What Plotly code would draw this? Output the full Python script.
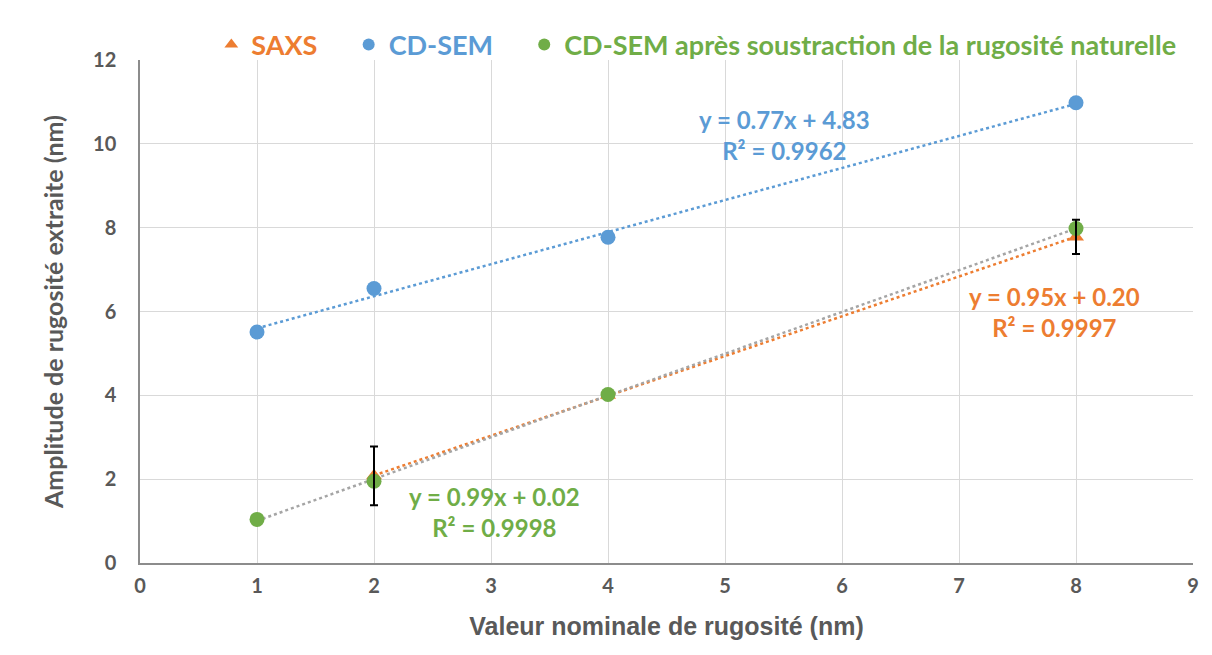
import numpy as np
import plotly.graph_objects as go

# ---- data ----
saxs_x = [2, 4, 8]
saxs_y = [2.08, 4.0, 7.78]
saxs_err = [0.7, 0.0, 0.41]

cdsem_x = [1, 2, 4, 8]
cdsem_y = [5.51, 6.55, 7.77, 10.98]

corr_x = [1, 2, 4, 8]
corr_y = [1.04, 1.95, 4.02, 7.98]

series_names = ["SAXS", "CD-SEM", "CD-SEM après soustraction de la rugosité naturelle"]
eq_texts = ["y = 0.77x + 4.83<br>R² = 0.9962",
            "y = 0.95x + 0.20<br>R² = 0.9997",
            "y = 0.99x + 0.02<br>R² = 0.9998"]

ORANGE = "#ED7D31"
BLUE = "#5B9BD5"
GREEN = "#70AD47"
GRAY = "#A5A5A5"
TXT = "#595959"
FONT = "Lato"
PAD = "&nbsp;" * 4


def trend(x, y):
    c = np.polyfit(x, y, 1)
    xs = np.array([min(x), max(x)], dtype=float)
    return xs, np.polyval(c, xs)


def colored(name, col, pad=""):
    return f"<span style='color:{col}'>{name}</span>{pad}"


fig = go.Figure()

for (x, y, col) in [(saxs_x, saxs_y, ORANGE), (corr_x, corr_y, GRAY), (cdsem_x, cdsem_y, BLUE)]:
    tx, ty = trend(x, y)
    fig.add_trace(go.Scatter(x=tx, y=ty, mode="lines", showlegend=False, hoverinfo="skip",
                             line=dict(color=col, width=2.5, dash="dot")))

fig.add_trace(go.Scatter(x=saxs_x, y=saxs_y, mode="markers", name=colored(series_names[0], ORANGE, PAD),
                         marker=dict(symbol="triangle-up", size=14, color=ORANGE)))
fig.add_trace(go.Scatter(x=cdsem_x, y=cdsem_y, mode="markers", name=colored(series_names[1], BLUE, PAD),
                         marker=dict(symbol="circle", size=15, color=BLUE)))
fig.add_trace(go.Scatter(x=corr_x, y=corr_y, mode="markers", name=colored(series_names[2], GREEN),
                         marker=dict(symbol="circle", size=15, color=GREEN)))

# error bars (only where non-zero), drawn on top
ex = [x for x, e in zip(saxs_x, saxs_err) if e > 0]
ey = [y for y, e in zip(saxs_y, saxs_err) if e > 0]
ee = [e for e in saxs_err if e > 0]
fig.add_trace(go.Scatter(x=ex, y=ey, mode="markers", showlegend=False, hoverinfo="skip",
                         marker=dict(size=1, color="rgba(0,0,0,0)"),
                         error_y=dict(type="data", array=ee, visible=True,
                                      color="black", thickness=2, width=4)))

ann_pos = [(5.51, 10.22, BLUE), (7.82, 5.98, ORANGE), (3.03, 1.22, GREEN)]
for t, (ax, ay, col) in zip(eq_texts, ann_pos):
    fig.add_annotation(x=ax, y=ay, text=t, showarrow=False, xanchor="center", yanchor="middle",
                       font=dict(family=FONT, size=24, color=col, weight=700), align="center")

axis_common = dict(showgrid=True, gridcolor="#D9D9D9", gridwidth=1, zeroline=False,
                   showline=True, linecolor="#8C8C8C", linewidth=1.5, ticks="", automargin=False,
                   tickfont=dict(family=FONT, size=20, color=TXT, weight=700))

fig.update_xaxes(range=[0, 9], dtick=1, ticklabelstandoff=4,
                 title=dict(text="Valeur nominale de rugosité (nm)",
                            font=dict(family="Liberation Sans", size=25, color=TXT, weight=700),
                            standoff=22),
                 **axis_common)
fig.update_yaxes(range=[0, 12], dtick=2, ticklabelstandoff=18,
                 title=dict(text="Amplitude de rugosité extraite (nm)",
                            font=dict(family=FONT, size=25, color=TXT, weight=700), standoff=22),
                 **axis_common)

fig.update_layout(
    width=1196, height=639,
    margin=dict(l=132, r=11, t=52, b=84, autoexpand=False),
    plot_bgcolor="white", paper_bgcolor="white",
    legend=dict(orientation="h", xref="container", yref="container", x=0.170, y=0.942,
                xanchor="left", yanchor="middle",
                font=dict(family=FONT, size=27, weight=700, color=TXT), itemsizing="constant",
                bgcolor="rgba(0,0,0,0)"),
)

fig.write_html("out.html")
